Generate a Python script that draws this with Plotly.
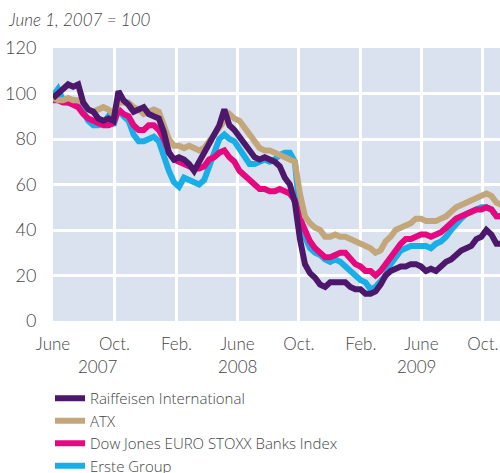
import pandas as pd
import plotly.graph_objects as go

dates = pd.date_range("2007-06-01", periods=90, freq="10D")

raiffeisen = [98, 100, 102, 104, 103, 104, 96, 93, 92, 89, 88, 89, 88, 101, 97, 95, 92, 93, 94, 91,
              90, 89, 83, 74, 71, 72, 71, 69, 66, 70, 73, 78, 82, 86, 93, 86, 84, 81, 78, 75,
              72, 71, 72, 71, 70, 68, 63, 60, 52, 36, 25, 21, 19, 16, 15, 17, 17, 17, 17, 15,
              14, 14, 12, 12, 13, 16, 20, 22, 23, 24, 24, 25, 25, 24, 22, 23, 22, 24, 26, 27,
              29, 31, 32, 33, 36, 37, 40, 38, 34, 34]
atx = [98, 97, 97, 98, 97, 97, 96, 93, 92, 93, 94, 93, 91, 96, 96, 96, 94, 93, 91, 92,
       93, 92, 85, 80, 77, 77, 76, 77, 76, 75, 76, 79, 82, 85, 89, 91, 89, 88, 85, 82,
       79, 76, 75, 75, 74, 73, 72, 71, 70, 56, 46, 43, 41, 40, 37, 37, 38, 37, 37, 36,
       35, 34, 33, 32, 30, 31, 35, 37, 40, 41, 42, 43, 45, 45, 44, 44, 44, 45, 46, 48,
       50, 51, 52, 53, 54, 55, 56, 55, 52, 51]
dj_banks = [97, 97, 96, 96, 95, 94, 91, 89, 88, 87, 86, 86, 87, 93, 91, 90, 86, 84, 84, 86,
            86, 84, 80, 74, 71, 70, 69, 68, 67, 67, 68, 71, 72, 74, 75, 72, 70, 66, 64, 62,
            60, 58, 58, 57, 57, 58, 57, 56, 53, 45, 40, 35, 32, 30, 28, 28, 29, 30, 30, 27,
            25, 24, 22, 22, 20, 22, 25, 29, 31, 34, 36, 36, 37, 38, 38, 37, 38, 39, 41, 43,
            45, 46, 47, 48, 49, 49, 50, 49, 46, 46]
erste = [99, 102, 97, 96, 97, 95, 92, 88, 86, 86, 87, 90, 86, 93, 90, 88, 82, 79, 79, 80,
         81, 79, 72, 66, 61, 59, 63, 62, 61, 60, 62, 68, 74, 80, 82, 80, 79, 76, 72, 69,
         69, 70, 71, 70, 71, 73, 74, 74, 70, 47, 37, 32, 30, 29, 27, 26, 27, 26, 24, 22,
         20, 18, 17, 14, 15, 18, 20, 25, 28, 31, 32, 33, 33, 33, 33, 32, 34, 35, 37, 40,
         43, 45, 47, 48, 49, 50, 50, 49, 46, 46]

tick_vals = ["2007-06-01", "2007-10-01", "2008-02-01", "2008-06-01",
             "2008-10-01", "2009-02-01", "2009-06-01", "2009-10-01"]
tick_text = ["June", "Oct.", "Feb.", "June", "Oct.", "Feb.", "June", "Oct."]
year_labels = ["2007", "2008", "2009"]
year_pos = ["2007-08-30", "2008-06-01", "2009-05-22"]

FONT = "Lato"
LFONT = "Open Sans"
TXT = "#454545"
PW, PH, L, T = 447, 273, 53, 48


def px(xp):
    return (xp - L) / PW


def py(yp):
    return (T + PH - yp) / PH


fig = go.Figure()
series = [
    ("Erste Group", erste, "#1aaee8"),
    ("Dow Jones EURO STOXX Banks Index", dj_banks, "#e6087f"),
    ("ATX", atx, "#c3a77b"),
    ("Raiffeisen International", raiffeisen, "#4d186c"),
]
for name, vals, col in series:
    fig.add_trace(go.Scatter(x=dates, y=vals, mode="lines", name=name,
                             line=dict(color=col, width=6)))

for lab, pos in zip(year_labels, year_pos):
    fig.add_annotation(x=pos, y=py(366), xref="x", yref="paper", text=lab,
                       showarrow=False, yanchor="middle", xanchor="center",
                       font=dict(family=FONT, size=17, color=TXT, weight=300))

fig.add_annotation(x=px(6), y=py(20), xref="paper", yref="paper", text="June 1, 2007 = 100",
                   showarrow=False, xanchor="left", yanchor="middle",
                   font=dict(family=FONT, size=17, color=TXT, style="italic", weight=300))

fig.update_layout(
    width=500, height=473,
    margin=dict(l=L, r=500 - L - PW, t=T, b=473 - T - PH, autoexpand=False),
    paper_bgcolor="white",
    plot_bgcolor="#d9e2ee",
    showlegend=True,
    legend=dict(traceorder="reversed", x=px(50), y=py(382),
                xanchor="left", yanchor="top", tracegroupgap=0,
                font=dict(family=LFONT, size=15, color=TXT, weight=300),
                bgcolor="rgba(0,0,0,0)"),
    xaxis=dict(range=["2007-06-01", "2009-11-04"], tickvals=tick_vals, ticktext=tick_text,
               showgrid=True, gridcolor="white", gridwidth=2.5, zeroline=False,
               showline=False, ticks="outside", ticklen=8, tickcolor="rgba(0,0,0,0)",
               automargin=False, tickfont=dict(family=FONT, size=17, color=TXT, weight=300)),
    yaxis=dict(range=[0, 120], dtick=20, showgrid=True, gridcolor="white", gridwidth=2.5,
               zeroline=False, showline=False, ticks="outside", ticklen=12,
               tickcolor="rgba(0,0,0,0)", automargin=False,
               tickfont=dict(family=FONT, size=18, color=TXT, weight=300)),
)

fig.write_html("out.html", config={"displayModeBar": False},
               post_script="document.body.style.margin='0px';")
